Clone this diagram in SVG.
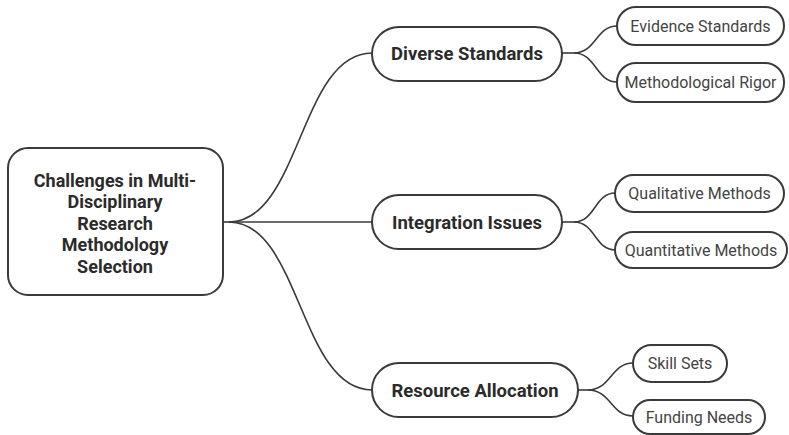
<svg xmlns="http://www.w3.org/2000/svg" width="789" height="435" viewBox="0 0 789 435">
  <style>
    .box { fill: #ffffff; stroke: #3a3a3a; stroke-width: 2; }
    .link { fill: none; stroke: #3a3a3a; stroke-width: 1.6; }
    .root { font-family: Roboto, "Liberation Sans", sans-serif; font-weight: bold; font-size: 18px; fill: #2b2b2b; text-anchor: middle; }
    .main { font-family: Roboto, "Liberation Sans", sans-serif; font-weight: bold; font-size: 18.5px; fill: #2b2b2b; text-anchor: middle; }
    .leaf { font-family: Roboto, "Liberation Sans", sans-serif; font-size: 16px; fill: #444444; text-anchor: middle; }
  </style>
  <rect width="789" height="435" fill="#ffffff"/>

  <g id="connectors">
    <!-- root to branches -->
    <path class="link" d="M223 222 H229"/>
    <path class="link" d="M229 222 C300 222 300 53 372 53"/>
    <path class="link" d="M229 222 H372"/>
    <path class="link" d="M229 222 C300 222 300 390 372 390"/>
    <!-- Diverse Standards to leaves -->
    <path class="link" d="M562 53 H574"/>
    <path class="link" d="M574 53 C596 53 596 26 617 26"/>
    <path class="link" d="M574 53 C596 53 596 82 617 82"/>
    <!-- Integration Issues to leaves -->
    <path class="link" d="M562 222 H574"/>
    <path class="link" d="M574 222 C595 222 595 193 615 193"/>
    <path class="link" d="M574 222 C595 222 595 250 615 250"/>
    <!-- Resource Allocation to leaves -->
    <path class="link" d="M578 390 H588"/>
    <path class="link" d="M588 390 C611 390 611 363 633 363"/>
    <path class="link" d="M588 390 C611 390 611 416 633 416"/>
  </g>

  <g id="root">
    <rect class="box" x="8" y="148" width="215" height="147" rx="20"/>
    <text class="root" x="115" y="186.5">Challenges in Multi-</text>
    <text class="root" x="115" y="208">Disciplinary</text>
    <text class="root" x="115" y="229.5">Research</text>
    <text class="root" x="115" y="251">Methodology</text>
    <text class="root" x="115" y="272.5">Selection</text>
  </g>

  <g id="diverse-standards">
    <rect class="box" x="372" y="27" width="190" height="54" rx="27"/>
    <text class="main" x="467" y="60">Diverse Standards</text>
  </g>
  <g id="integration-issues">
    <rect class="box" x="372" y="195" width="190" height="54" rx="27"/>
    <text class="main" x="467" y="228.5">Integration Issues</text>
  </g>
  <g id="resource-allocation">
    <rect class="box" x="372" y="363" width="206" height="54" rx="27"/>
    <text class="main" x="475" y="396.5">Resource Allocation</text>
  </g>

  <g id="evidence-standards">
    <rect class="box" x="617" y="7" width="167" height="38" rx="19"/>
    <text class="leaf" x="700.5" y="31.5">Evidence Standards</text>
  </g>
  <g id="methodological-rigor">
    <rect class="box" x="617" y="63" width="167" height="39" rx="19"/>
    <text class="leaf" x="700.5" y="88">Methodological Rigor</text>
  </g>
  <g id="qualitative-methods">
    <rect class="box" x="615" y="175" width="169" height="37" rx="18.5"/>
    <text class="leaf" x="699.5" y="199">Qualitative Methods</text>
  </g>
  <g id="quantitative-methods">
    <rect class="box" x="615" y="232" width="172" height="36" rx="18"/>
    <text class="leaf" x="701" y="255.5">Quantitative Methods</text>
  </g>
  <g id="skill-sets">
    <rect class="box" x="633" y="345" width="94" height="37" rx="18.5"/>
    <text class="leaf" x="680" y="369">Skill Sets</text>
  </g>
  <g id="funding-needs">
    <rect class="box" x="633" y="400" width="132" height="34" rx="17"/>
    <text class="leaf" x="699" y="422.5">Funding Needs</text>
  </g>
</svg>
